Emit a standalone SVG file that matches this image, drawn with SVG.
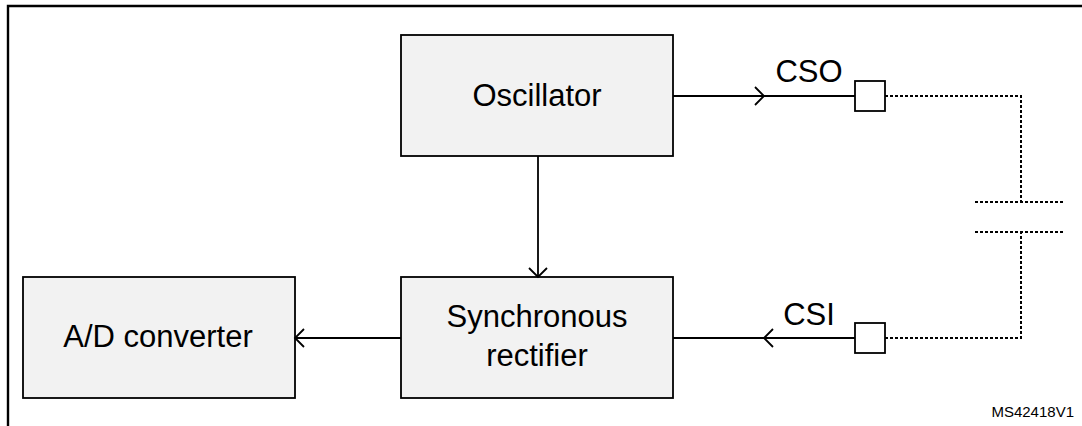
<svg xmlns="http://www.w3.org/2000/svg" width="1082" height="426" viewBox="0 0 1082 426">
  <style>
    .box { fill: #f2f2f2; stroke: #000; stroke-width: 1.8; }
    .lbl { font-family: "Liberation Sans", Arial, sans-serif; font-size: 31px; fill: #000; text-anchor: middle; }
    .wire { fill: none; stroke: #000; stroke-width: 1.8; }
    .dot { fill: none; stroke: #000; stroke-width: 2; stroke-dasharray: 3 2; }
    .pin { fill: #fff; stroke: #000; stroke-width: 1.8; }
  </style>
  <defs>
    <marker id="chev" markerUnits="userSpaceOnUse" markerWidth="24" markerHeight="24" refX="12" refY="12" orient="auto" viewBox="0 0 24 24">
      <path d="M3,3 L12,12 L3,21" fill="none" stroke="#000" stroke-width="1.8"/>
    </marker>
  </defs>
  <rect width="1082" height="426" fill="#fff"/>
  <path d="M8,426 V6 H1082" fill="none" stroke="#000" stroke-width="2.4"/>

  <g id="oscillator">
    <rect class="box" x="401" y="35" width="272" height="121"/>
    <text class="lbl" x="537" y="106">Oscillator</text>
  </g>
  <g id="sync-rectifier">
    <rect class="box" x="401" y="277" width="272" height="121"/>
    <text class="lbl" x="537" y="327">Synchronous</text>
    <text class="lbl" x="537" y="366">rectifier</text>
  </g>
  <g id="ad-converter">
    <rect class="box" x="23" y="277" width="272" height="121"/>
    <text class="lbl" x="158" y="347">A/D converter</text>
  </g>
  <g id="cso-pin">
    <rect class="pin" x="855" y="81" width="30" height="30"/>
    <text class="lbl" x="809" y="82">CSO</text>
  </g>
  <g id="csi-pin">
    <rect class="pin" x="855" y="323" width="30" height="30"/>
    <text class="lbl" x="809" y="325">CSI</text>
  </g>
  <g id="capacitor">
    <line class="dot" x1="975" y1="202" x2="1065" y2="202"/>
    <line class="dot" x1="975" y1="232" x2="1065" y2="232"/>
  </g>

  <g id="connectors">
    <polyline class="wire" points="673,96 764,96 855,96" marker-mid="url(#chev)"/>
    <line class="wire" x1="538" y1="156" x2="538" y2="277" marker-end="url(#chev)"/>
    <line class="wire" x1="401" y1="338" x2="295" y2="338" marker-end="url(#chev)"/>
    <polyline class="wire" points="855,338 764,338 673,338" marker-mid="url(#chev)"/>
    <polyline class="dot" points="885,96 1021,96 1021,202"/>
    <polyline class="dot" points="885,338 1021,338 1021,232"/>
  </g>

  <text x="1074" y="417" font-family="Liberation Sans, Arial, sans-serif" font-size="15" text-anchor="end" fill="#000">MS42418V1</text>
</svg>
